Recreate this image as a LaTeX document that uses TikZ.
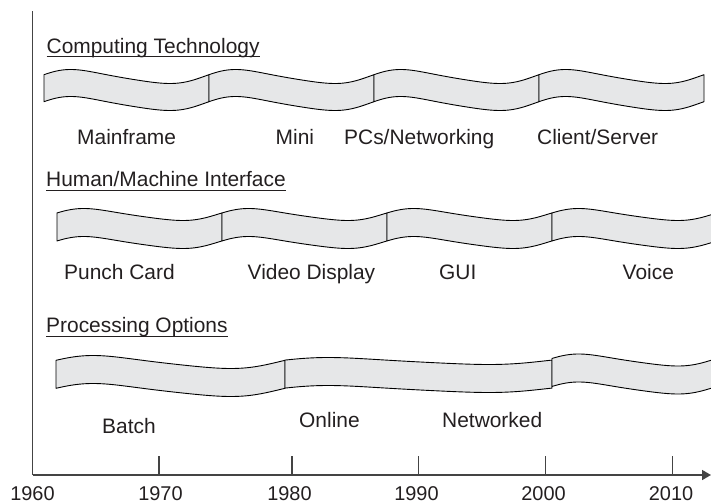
\documentclass[tikz,border=0pt]{standalone}
\usepackage{fontspec}
\setmainfont{Liberation Sans}
\usetikzlibrary{arrows.meta}
\definecolor{bandfill}{RGB}{230,231,232}
\definecolor{axisgray}{RGB}{68,68,68}
\definecolor{ink}{RGB}{35,31,32}
\newcommand\wseg[5]{%
  \filldraw[bandline] plot[domain=#1:#2,samples=90] (\x,{#3-#4*wv((\x-#1)/(#2-#1))})
   -- plot[domain=#2:#1,samples=90] (\x,{#3+#5-#4*wv((\x-#1)/(#2-#1))}) -- cycle;}
\begin{document}
\begin{tikzpicture}[x=1bp,y=-1bp,
  declare function={wv(\t)=sin(360*(\t+0.055*sin(360*\t))+15);},
  bandline/.style={fill=bandfill,draw=black,line width=0.9bp,line join=round},
  lbl/.style={anchor=base west,inner sep=0pt,text=ink,font=\fontsize{21}{25}\selectfont},
  head/.style={lbl},
  yr/.style={anchor=base,inner sep=0pt,text=ink,font=\fontsize{20}{24}\selectfont},
  axisline/.style={draw=axisgray,line width=1.6bp},
  tick/.style={draw=axisgray,line width=1.3bp},
  uline/.style={draw=ink,line width=1.1bp}]
\useasboundingbox (0,0) rectangle (711,503);
\clip (0,0) rectangle (711,503);

% ---- bands ----
% Computing Technology
\wseg{44}{209}{76.5}{7}{27}
\wseg{209}{374}{76.5}{7}{27}
\wseg{374}{539}{76.5}{7}{27}
\wseg{539}{704}{76.5}{7}{27}
% Human/Machine Interface
\wseg{57}{222}{214.5}{6}{28}
\wseg{222}{387}{214.5}{6}{28}
\wseg{387}{552}{214.5}{6}{28}
\wseg{552}{717}{214.5}{6}{28}
% Processing Options
\wseg{56}{285}{362}{6.5}{28}
\wseg{285}{552}{361}{3.5}{28}
\wseg{552}{717}{360}{6}{28}

% ---- headings ----
\node[head] (h1) at (46.5,53.3) {Computing Technology};
\node[head] (h2) at (46,187) {Human/Machine Interface};
\node[head] (h3) at (46,332.7) {Processing Options};
\foreach \h in {h1,h2,h3}
  \draw[uline] ([yshift=-3.4bp]\h.base west) -- ([yshift=-3.4bp]\h.base east);

% ---- labels ----
\node[lbl] (l1) at (77,145) {Mainframe};
\node[lbl] (l2) at (275.5,145) {Mini};
\node[lbl] (l3) at (344,145) {PCs/Networking};
\node[lbl] (l4) at (537,145) {Client/Server};
\node[lbl] (l5) at (64,280) {Punch Card};
\node[lbl] (l6) at (247.5,280) {Video Display};
\node[lbl] (l7) at (439,280) {GUI};
\node[lbl] (l8) at (622.5,280) {Voice};
\node[lbl] (l9) at (102,433) {Batch};
\node[lbl] (l10) at (299,427) {Online};
\node[lbl] (l11) at (442,427) {Networked};

% ---- axes ----
\coordinate (ytop) at (32.5,11.5);
\coordinate (orig) at (32.5,475);
\coordinate (xend) at (711,475);
\draw[axisline] (ytop) -- (orig);
\draw[axisline,-{Triangle[length=9bp,width=10bp]}] (orig) -- (xend);
\foreach \x/\n in {159/t1970,292/t1980,418.7/t1990,545.7/t2000,672.7/t2010}{
  \coordinate (\n) at (\x,475);
  \draw[tick] (\n) -- ++(0,-19);
}
\node[yr] (y1960) at (32.5,500) {1960};
\node[yr] (y1970) at (160.5,500) {1970};
\node[yr] (y1980) at (289.5,500) {1980};
\node[yr] (y1990) at (416.5,500) {1990};
\node[yr] (y2000) at (543.5,500) {2000};
\node[yr] (y2010) at (671,500) {2010};
\end{tikzpicture}
\end{document}
